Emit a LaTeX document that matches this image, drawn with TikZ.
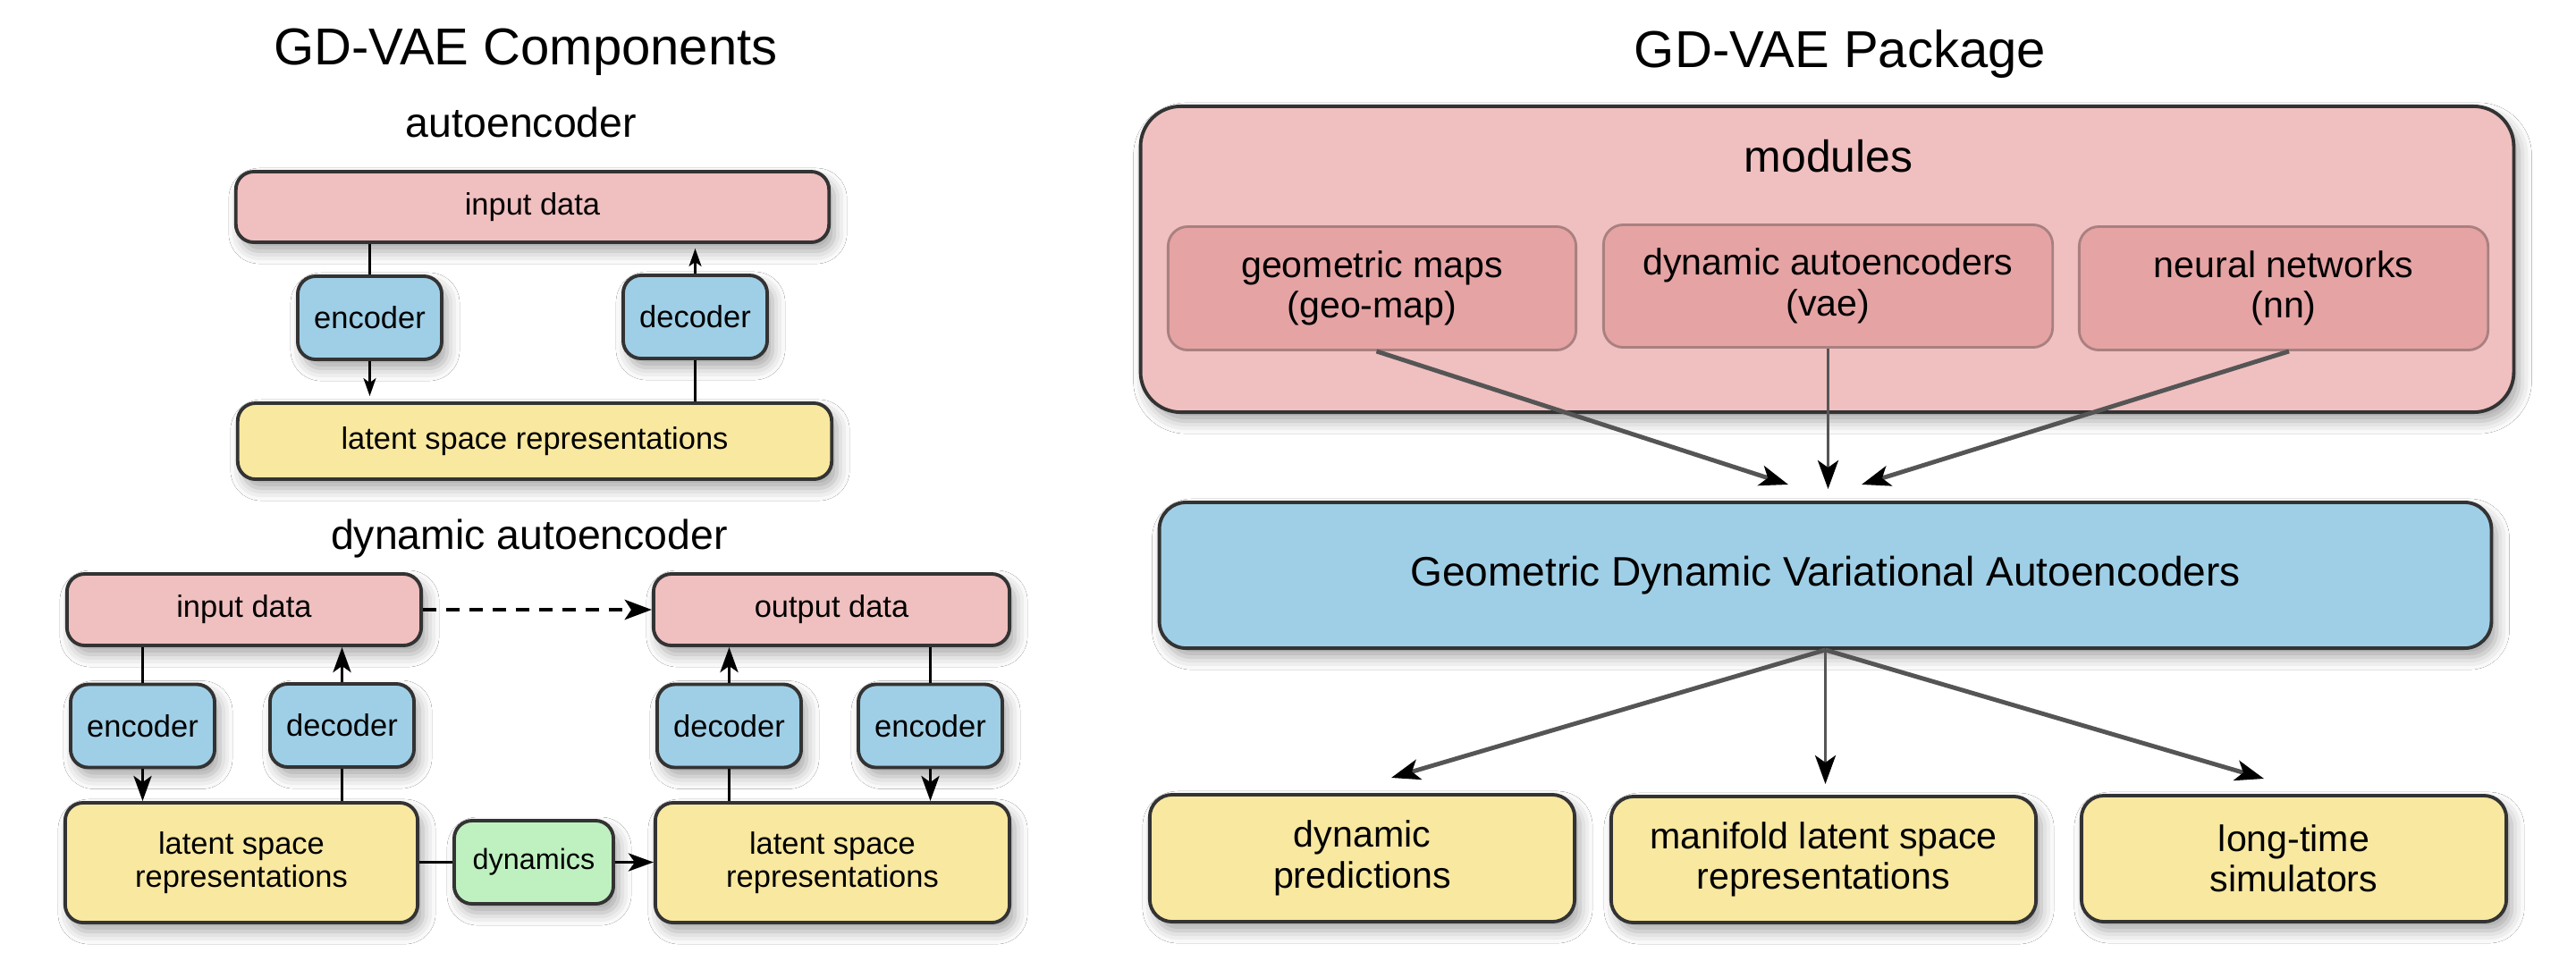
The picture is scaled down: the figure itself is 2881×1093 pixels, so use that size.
\documentclass[tikz,border=0pt]{standalone}
\usepackage{fontspec}
\setmainfont{Liberation Sans}
\usetikzlibrary{arrows.meta,shadows.blur}
\definecolor{cpink}{HTML}{F0BFBF}
\definecolor{cmod}{HTML}{E5A3A4}
\definecolor{cmodb}{HTML}{A98080}
\definecolor{cblue}{HTML}{9FCFE6}
\definecolor{cyel}{HTML}{F8E8A0}
\definecolor{cgreen}{HTML}{BFF0C0}
\definecolor{cbord}{HTML}{333333}
\definecolor{carrow}{HTML}{555555}
\begin{document}
\begin{tikzpicture}[x=0.01cm,y=-0.01cm,
  box/.style={draw=cbord, line width=1.1pt, rounded corners=0.2cm, align=center, inner sep=0pt,
    blur shadow={shadow xshift=0.06cm, shadow yshift=-0.1cm, shadow blur radius=0.14cm, shadow opacity=35}},
  small/.style={font=\fontsize{9.8pt}{10.4pt}\selectfont},
  mid/.style={font=\fontsize{11.7pt}{12.9pt}\selectfont},
  sect/.style={font=\fontsize{13.2pt}{15pt}\selectfont, anchor=base},
  bigt/.style={font=\fontsize{16.5pt}{19pt}\selectfont, anchor=base},
  pinkbox/.style={box, fill=cpink},
  bluebox/.style={box, fill=cblue, minimum width=1.61cm, minimum height=0.93cm},
  yelbox/.style={box, fill=cyel},
  modbox/.style={draw=cmodb, line width=0.8pt, fill=cmod, rounded corners=0.22cm, align=center, inner sep=0pt, mid},
  thinarr/.style={draw=black, line width=0.7pt, -{Stealth[length=0.2cm,width=0.14cm,inset=0.05cm]}},
  thinln/.style={draw=black, line width=0.7pt},
  arr/.style={draw=black, line width=1.1pt, -{Stealth[length=0.28cm,width=0.2cm,inset=0.07cm]}},
  ln/.style={draw=black, line width=1.1pt},
  dasharr/.style={draw=black, line width=1.4pt, dash pattern=on 0.15cm off 0.11cm, -{Stealth[length=0.3cm,width=0.22cm,inset=0.07cm]}},
  garr/.style={draw=carrow, line width=1.4pt, -{Stealth[length=0.32cm,width=0.23cm,inset=0.08cm,color=black]}}
]
\useasboundingbox[fill=white] (0,0) rectangle (2881,1093);

% ---------------- left: components ----------------
\node[bigt] (tcomp) at (588,72) {GD-VAE Components};
\node[sect] (tae) at (583,153) {autoencoder};

\node[pinkbox, small, minimum width=6.63cm, minimum height=0.79cm] (ae_in) at (595.5,231.5) {input data};
\node[bluebox, small] (ae_enc) at (413.5,355.5) {encoder};
\node[bluebox, small] (ae_dec) at (777.5,354.5) {decoder};
\node[yelbox, small, minimum width=6.64cm, minimum height=0.85cm] (ae_lat) at (598,493.5) {latent space representations};

\draw[thinln] (ae_enc.north |- ae_in.south) -- (ae_enc.north);
\draw[thinarr, shorten >=0.06cm] (ae_enc.south) -- (ae_enc.south |- ae_lat.north);
\draw[thinln] (ae_dec.south |- ae_lat.north) -- (ae_dec.south);
\draw[thinarr, shorten >=0.05cm] (ae_dec.north) -- (ae_dec.north |- ae_in.south);

\node[sect] (tdae) at (592,614) {dynamic autoencoder};

\node[pinkbox, small, minimum width=3.96cm, minimum height=0.80cm] (d_in) at (273,682) {input data};
\node[pinkbox, small, minimum width=3.98cm, minimum height=0.80cm] (d_out) at (930,682) {output data};
\node[bluebox, small] (d_enc1) at (159.5,812) {encoder};
\node[bluebox, small] (d_dec1) at (382.5,811.5) {decoder};
\node[bluebox, small] (d_dec2) at (815.5,812) {decoder};
\node[bluebox, small] (d_enc2) at (1040.5,812) {encoder};
\node[yelbox, small, minimum width=3.94cm, minimum height=1.34cm] (d_lat1) at (270,965) {latent space\\representations};
\node[yelbox, small, minimum width=3.96cm, minimum height=1.34cm] (d_lat2) at (931,965) {latent space\\representations};
\node[box, fill=cgreen, font=\fontsize{9.2pt}{10pt}\selectfont, minimum width=1.78cm, minimum height=0.93cm] (d_dyn) at (597,964.5) {dynamics};

\draw[dasharr] (d_in.east) -- (d_out.west);
\draw[ln] (d_enc1.north |- d_in.south) -- (d_enc1.north);
\draw[arr] (d_enc1.south) -- (d_enc1.south |- d_lat1.north);
\draw[ln] (d_dec1.south |- d_lat1.north) -- (d_dec1.south);
\draw[arr] (d_dec1.north) -- (d_dec1.north |- d_in.south);
\draw[ln] (d_dec2.south |- d_lat2.north) -- (d_dec2.south);
\draw[arr] (d_dec2.north) -- (d_dec2.north |- d_out.south);
\draw[ln] (d_enc2.north |- d_out.south) -- (d_enc2.north);
\draw[arr] (d_enc2.south) -- (d_enc2.south |- d_lat2.north);
\draw[ln] (d_lat1.east |- d_dyn.west) -- (d_dyn.west);
\draw[arr] (d_dyn.east) -- (d_dyn.east -| d_lat2.west);

% ---------------- right: package ----------------
\node[bigt] (tpkg) at (2058,75) {GD-VAE Package};

\node[box, fill=cpink, rounded corners=0.45cm, minimum width=15.35cm, minimum height=3.42cm] (modules) at (2043.5,290) {};
\node[font=\fontsize{14.2pt}{16pt}\selectfont, anchor=base] (modlbl) at (2045,192) {modules};
\node[modbox, minimum width=4.56cm, minimum height=1.38cm] (m_geo) at (1534.5,322.5) {geometric maps\\(geo-map)};
\node[modbox, minimum width=5.02cm, minimum height=1.37cm] (m_vae) at (2044.5,320) {dynamic autoencoders\\(vae)};
\node[modbox, minimum width=4.57cm, minimum height=1.38cm] (m_nn) at (2554,322.5) {neural networks\\(nn)};

\node[box, fill=cblue, rounded corners=0.3cm, font=\fontsize{13.1pt}{15pt}\selectfont, minimum width=14.89cm, minimum height=1.63cm] (gdvae) at (2041.5,643.5) {Geometric Dynamic Variational Autoencoders};

\node[yelbox, mid, rounded corners=0.25cm, minimum width=4.75cm, minimum height=1.42cm] (o_pred) at (1523.5,960) {dynamic\\predictions};
\node[yelbox, mid, rounded corners=0.25cm, minimum width=4.75cm, minimum height=1.41cm] (o_man) at (2039.5,961.5) {manifold latent space\\representations};
\node[yelbox, mid, rounded corners=0.25cm, minimum width=4.75cm, minimum height=1.41cm] (o_sim) at (2565.5,960.5) {long-time\\simulators};

\coordinate (cin1) at (2000,542);
\coordinate (cin2) at (2044.5,547);
\coordinate (cin3) at (2082,542);
\coordinate (cout1) at (1556,870);
\coordinate (cout2) at (2041.5,877);
\coordinate (cout3) at (2532,871);

\draw[garr] (m_geo.south) ++(5,0) -- (cin1);
\draw[garr, line width=1.0pt] (m_vae.south) -- (cin2);
\draw[garr] (m_nn.south) ++(6,0) -- (cin3);
\draw[garr] (gdvae.south) -- (cout1);
\draw[garr, line width=1.0pt] (gdvae.south) -- (cout2);
\draw[garr] (gdvae.south) -- (cout3);
\end{tikzpicture}
\end{document}
